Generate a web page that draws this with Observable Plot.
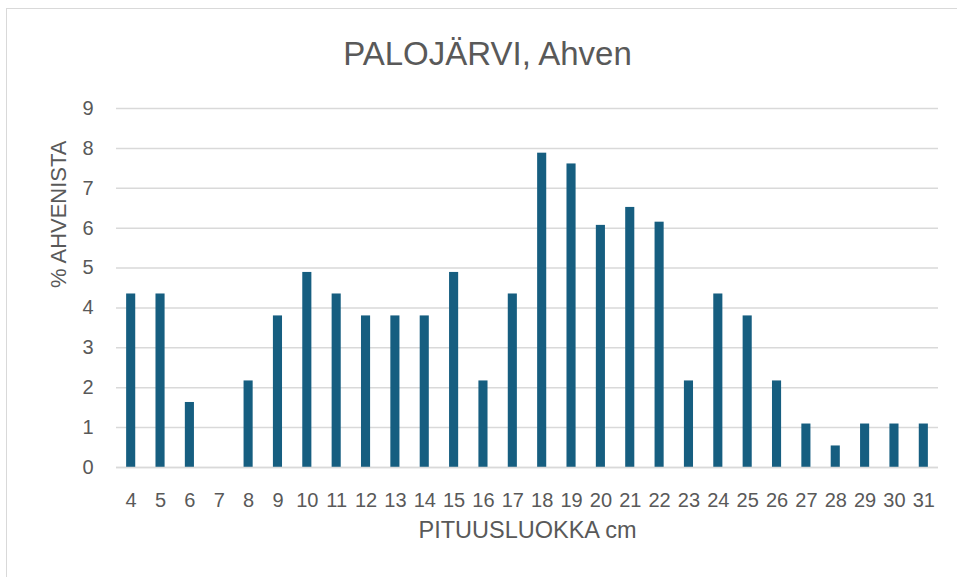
<!DOCTYPE html>
<html>
<head>
<meta charset="utf-8">
<script src="https://cdn.jsdelivr.net/npm/d3@7"></script>
<script src="https://cdn.jsdelivr.net/npm/@observablehq/plot@0.6"></script>
<style>
  html, body { margin: 0; padding: 0; background: #fff; }
  #wrap { position: relative; width: 957px; height: 577px; overflow: hidden; font-family: "Liberation Sans", Arial, sans-serif; }
  #frame { position: absolute; left: 6px; top: 8px; width: 1000px; height: 1000px; border-left: 1.5px solid #d9d9d9; border-top: 1.5px solid #d9d9d9; }
  #title { position: absolute; left: 487.5px; top: 52.5px; transform: translate(-50%, -50%); font-size: 33px; color: #595959; white-space: nowrap; line-height: 1; }
  #chart { position: absolute; left: 0; top: 80px; }
</style>
</head>
<body>
<div id="wrap">
  <div id="frame"></div>
  <div id="title">PALOJÄRVI, Ahven</div>
  <div id="chart"></div>
</div>
<script>
const categories = ["4","5","6","7","8","9","10","11","12","13","14","15","16","17","18","19","20","21","22","23","24","25","26","27","28","29","30","31"];
const values = [4.35, 4.35, 1.63, 0, 2.17, 3.80, 4.89, 4.35, 3.80, 3.80, 3.80, 4.89, 2.17, 4.35, 7.88, 7.61, 6.07, 6.52, 6.15, 2.17, 4.35, 3.80, 2.17, 1.09, 0.54, 1.09, 1.09, 1.09];
const yTicks = [0, 1, 2, 3, 4, 5, 6, 7, 8, 9];
const xTitle = ["PITUUSLUOKKA cm"];
const yTitle = ["% AHVENISTA"];

const data = categories.map((c, i) => ({ k: c, v: values[i] }));

const plot = Plot.plot({
  width: 957,
  height: 497,
  marginLeft: 116,
  marginRight: 19,
  marginTop: 28,
  marginBottom: 110,
  style: { fontFamily: "'Liberation Sans', Arial, sans-serif", color: "#595959", background: "transparent", overflow: "visible" },
  x: { domain: categories, paddingInner: 0.69, paddingOuter: 0.345, round: false, label: null },
  y: { domain: [0, 9], label: null },
  marks: [
    Plot.gridY(yTicks, { stroke: "#d9d9d9", strokeOpacity: 1, strokeWidth: 1.5 }),
    Plot.barY(data, { x: "k", y: "v", fill: "#165e80" }),
    Plot.ruleY([0], { stroke: "#d9d9d9", strokeWidth: 1.5 }),
    Plot.axisY(yTicks, { tickSize: 0, tickPadding: 23, fontSize: 20, fill: "#595959", label: null }),
    Plot.axisX({ tickSize: 0, tickPadding: 25, fontSize: 20, fill: "#595959", label: null }),
    Plot.text(yTitle, { frameAnchor: "left", dx: -58, rotate: -90, fontSize: 22, fill: "#595959", text: d => d }),
    Plot.text(xTitle, { frameAnchor: "bottom", dy: 70, fontSize: 23.5, fill: "#595959", text: d => d })
  ]
});
document.getElementById("chart").appendChild(plot);
</script>
</body>
</html>
